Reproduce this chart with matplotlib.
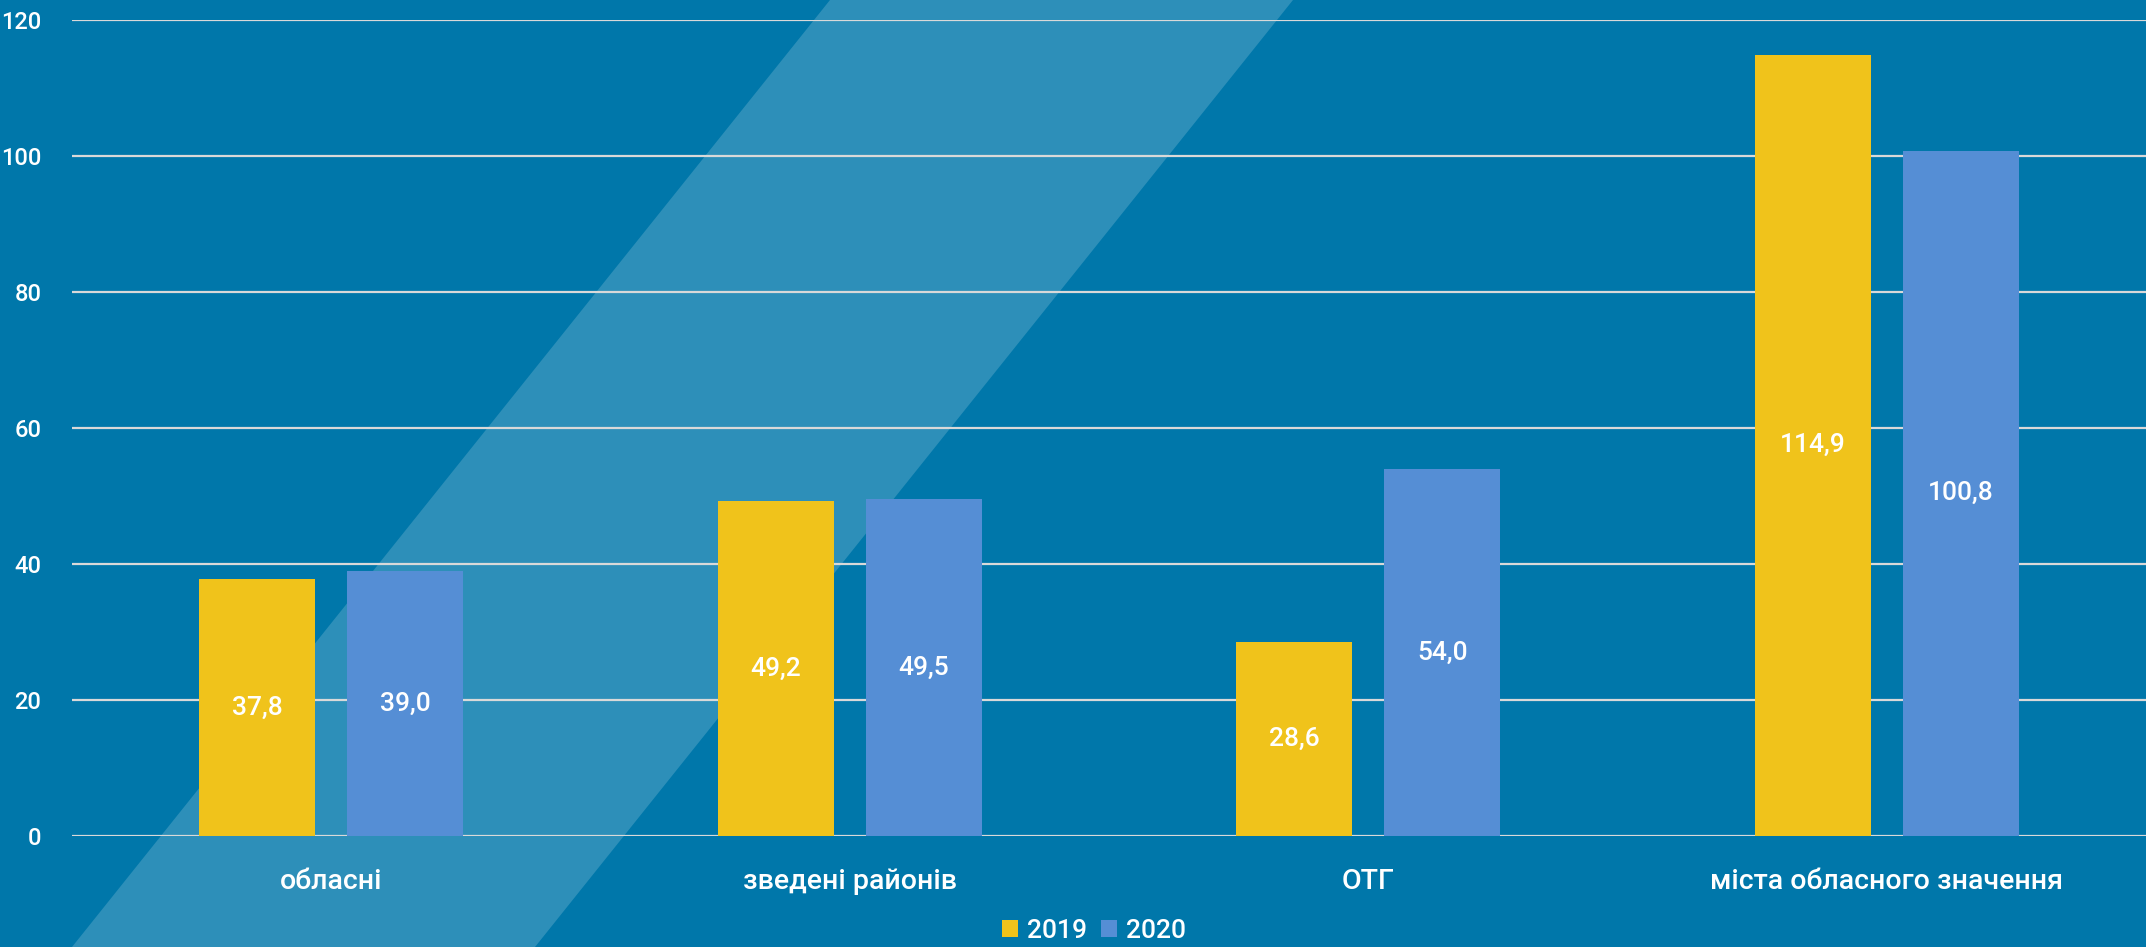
import numpy as np
import matplotlib.pyplot as plt
from matplotlib.patches import Polygon

# ----------------------------------------------------------------------
# data
# ----------------------------------------------------------------------
categories = ['обласні', 'зведені районів', 'ОТГ', 'міста обласного значення']
series_names = ['2019', '2020']
values_2019 = [37.8, 49.2, 28.6, 114.9]
values_2020 = [39.0, 49.5, 54.0, 100.8]
y_ticks = [0, 20, 40, 60, 80, 100, 120]

# ----------------------------------------------------------------------
# style
# ----------------------------------------------------------------------
bg = '#0077AA'
c2019 = '#F0C31B'
c2020 = '#558ED5'
grid_c = '#D9D9D9'
plt.rcParams['font.family'] = ['Roboto', 'DejaVu Sans']
plt.rcParams['font.weight'] = 'medium'

W, H = 2146, 947
fig = plt.figure(figsize=(W / 100, H / 100), dpi=100, facecolor=bg)

# light diagonal band behind everything (pixel corners -> figure fraction)
band_px = [(830, 0), (1293, 0), (535, 947), (72, 947)]
band = Polygon([(x / W, 1 - y / H) for x, y in band_px], closed=True,
               transform=fig.transFigure, facecolor='white', alpha=0.18,
               edgecolor='none', zorder=0)
fig.patches.append(band)

ax = fig.add_axes([72 / W, (H - 836) / H, 1 - 72 / W, (836 - 20) / H])
ax.set_zorder(2)
ax.patch.set_alpha(0)

x = np.arange(len(categories))
bw = 0.2235
off = (bw + 0.0617) / 2
b1 = ax.bar(x - off, values_2019, bw, color=c2019, label=series_names[0], zorder=3)
b2 = ax.bar(x + off, values_2020, bw, color=c2020, label=series_names[1], zorder=3)

for bars in (b1, b2):
    for r in bars:
        v = r.get_height()
        ax.text(r.get_x() + r.get_width() / 2, v / 2, f'{v:.1f}'.replace('.', ','),
                ha='center', va='center', color='white', fontsize=19, zorder=4)

ax.set_xlim(-0.5, len(categories) - 0.5)
ax.set_ylim(0, 120)
ax.set_yticks(y_ticks)
ax.set_xticks(x)
ax.set_xticklabels(categories)
ax.yaxis.grid(True, color=grid_c, lw=1.6, zorder=1)
ax.set_axisbelow(True)
for s in ax.spines.values():
    s.set_visible(False)
ax.tick_params(axis='y', length=0, pad=22, labelcolor='white', labelsize=17)
ax.tick_params(axis='x', length=0, pad=23, labelcolor='white', labelsize=20.5)
for lab in ax.get_yticklabels():
    lab.set_clip_on(False)

leg = fig.legend(loc='center', bbox_to_anchor=(1094 / W, 1 - 931 / H), ncol=2,
                 frameon=False, fontsize=19, handlelength=0.6, handleheight=0.6,
                 handletextpad=0.35, columnspacing=0.55, labelcolor='white',
                 borderpad=0)

fig.savefig('out.png', dpi=100, facecolor=bg)
